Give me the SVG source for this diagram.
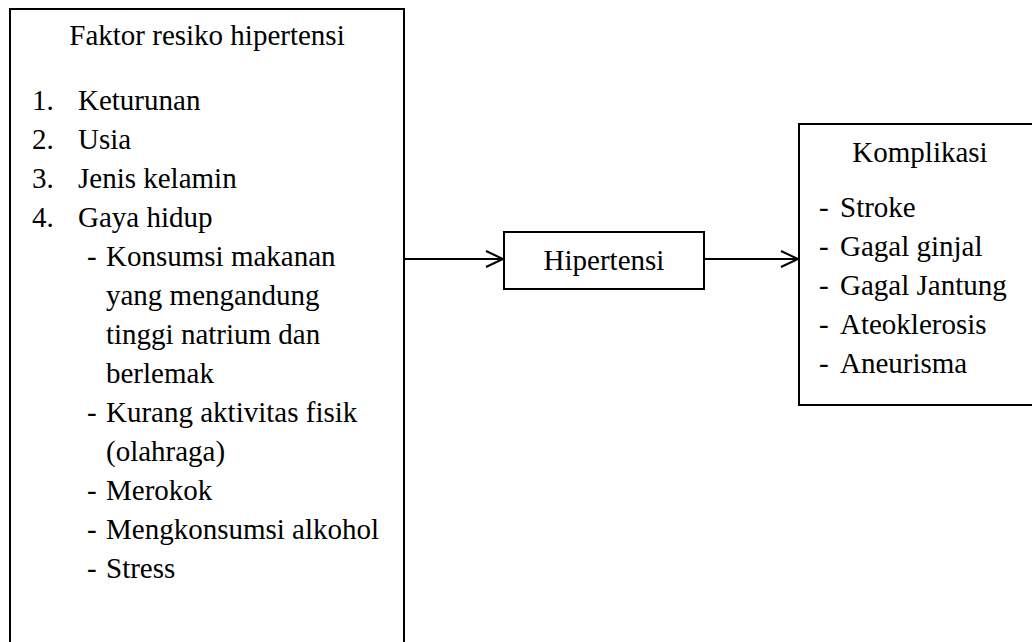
<svg xmlns="http://www.w3.org/2000/svg" width="1032" height="642" viewBox="0 0 1032 642">
<rect width="1032" height="642" fill="#fff"/>
<g id="faktor">
<rect x="10" y="9" width="394" height="640" fill="#fff" stroke="#000" stroke-width="2"/>
<text font-family="Liberation Serif" font-size="29" x="207" y="45" text-anchor="middle">Faktor resiko hipertensi</text>
<text font-family="Liberation Serif" font-size="29" x="32" y="110">1.</text><text font-family="Liberation Serif" font-size="29" x="78" y="110">Keturunan</text>
<text font-family="Liberation Serif" font-size="29" x="32" y="149">2.</text><text font-family="Liberation Serif" font-size="29" x="78" y="149">Usia</text>
<text font-family="Liberation Serif" font-size="29" x="32" y="188">3.</text><text font-family="Liberation Serif" font-size="29" x="78" y="188">Jenis kelamin</text>
<text font-family="Liberation Serif" font-size="29" x="32" y="227">4.</text><text font-family="Liberation Serif" font-size="29" x="78" y="227">Gaya hidup</text>
<text font-family="Liberation Serif" font-size="29" x="87" y="266">-</text><text font-family="Liberation Serif" font-size="29" x="106" y="266">Konsumsi makanan</text>
<text font-family="Liberation Serif" font-size="29" x="106" y="305">yang mengandung</text>
<text font-family="Liberation Serif" font-size="29" x="106" y="344">tinggi natrium dan</text>
<text font-family="Liberation Serif" font-size="29" x="106" y="383">berlemak</text>
<text font-family="Liberation Serif" font-size="29" x="87" y="422">-</text><text font-family="Liberation Serif" font-size="29" x="106" y="422">Kurang aktivitas fisik</text>
<text font-family="Liberation Serif" font-size="29" x="106" y="461">(olahraga)</text>
<text font-family="Liberation Serif" font-size="29" x="87" y="500">-</text><text font-family="Liberation Serif" font-size="29" x="106" y="500">Merokok</text>
<text font-family="Liberation Serif" font-size="29" x="87" y="539">-</text><text font-family="Liberation Serif" font-size="29" x="106" y="539">Mengkonsumsi alkohol</text>
<text font-family="Liberation Serif" font-size="29" x="87" y="578">-</text><text font-family="Liberation Serif" font-size="29" x="106" y="578">Stress</text>
</g>
<g id="hipertensi">
<rect x="504" y="232" width="200" height="57" fill="#fff" stroke="#000" stroke-width="2"/>
<text font-family="Liberation Serif" font-size="29" x="604" y="270" text-anchor="middle">Hipertensi</text>
</g>
<g id="komplikasi">
<rect x="799" y="124" width="240" height="281" fill="#fff" stroke="#000" stroke-width="2"/>
<text font-family="Liberation Serif" font-size="29" x="920" y="162" text-anchor="middle">Komplikasi</text>
<text font-family="Liberation Serif" font-size="29" x="819" y="217">-</text><text font-family="Liberation Serif" font-size="29" x="840" y="217">Stroke</text>
<text font-family="Liberation Serif" font-size="29" x="819" y="256">-</text><text font-family="Liberation Serif" font-size="29" x="840" y="256">Gagal ginjal</text>
<text font-family="Liberation Serif" font-size="29" x="819" y="295">-</text><text font-family="Liberation Serif" font-size="29" x="840" y="295">Gagal Jantung</text>
<text font-family="Liberation Serif" font-size="29" x="819" y="334">-</text><text font-family="Liberation Serif" font-size="29" x="840" y="334">Ateoklerosis</text>
<text font-family="Liberation Serif" font-size="29" x="819" y="373">-</text><text font-family="Liberation Serif" font-size="29" x="840" y="373">Aneurisma</text>
</g>
<g id="connectors" stroke="#000" stroke-width="2" fill="none">
<path d="M404,259 H503 M486,251 L503,259 L486,267"/>
<path d="M704,259 H798 M781,251 L798,259 L781,267"/>
</g>
</svg>
